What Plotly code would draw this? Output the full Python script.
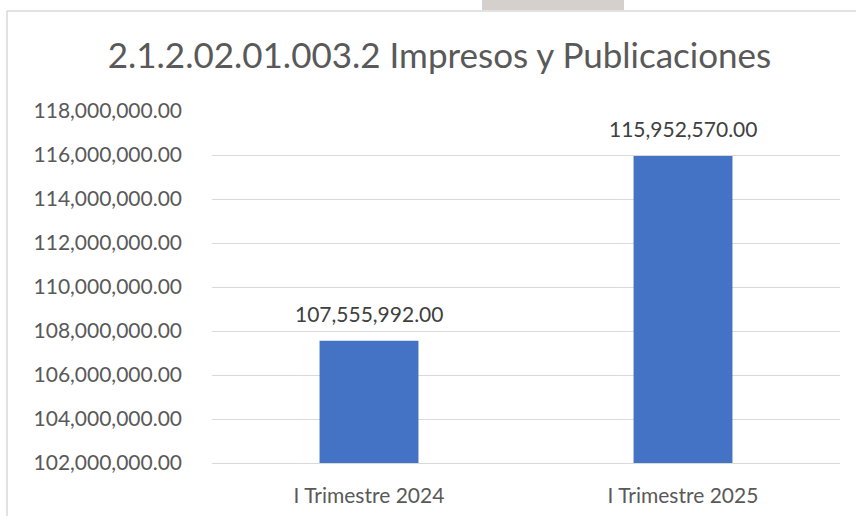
import plotly.graph_objects as go

categories = ["I Trimestre 2024", "I Trimestre 2025"]
values = [107555992.00, 115952570.00]
title_text = "2.1.2.02.01.003.2 Impresos y Publicaciones"
y_min, y_max, y_step = 102000000, 118000000, 2000000

FONT = "Lato, Carlito, Calibri, sans-serif"
TXT = "#595959"

fig = go.Figure()
fig.add_trace(go.Bar(
    x=categories, y=values, marker=dict(color="#4472c4", line=dict(width=0)),
    width=0.315,
))

for c, v in zip(categories, values):
    fig.add_annotation(x=c, y=v, text=f"{v:,.2f}", showarrow=False,
                       yanchor="bottom", yshift=13,
                       font=dict(family=FONT, size=21, color="#404040"))

W, H = 856, 516
L, R, T, B = 212, 16, 111, 53
pw, ph = W - L - R, H - T - B

def px(x):
    return (x - L) / pw

def py(y):
    return (H - B - y) / ph

shapes = [
    dict(type="line", xref="paper", yref="paper", x0=px(7), x1=px(860), y0=py(11), y1=py(11),
         line=dict(color="#d9d9d9", width=1.5), layer="below"),
    dict(type="line", xref="paper", yref="paper", x0=px(7), x1=px(7), y0=py(11), y1=py(520),
         line=dict(color="#d9d9d9", width=1.5), layer="below"),
    dict(type="rect", xref="paper", yref="paper", x0=px(482), x1=px(624), y0=py(-2), y1=py(10),
         fillcolor="#d5d0cc", line=dict(width=0), layer="below"),
]

fig.update_layout(
    width=W, height=H,
    margin=dict(l=L, r=R, t=T, b=B, autoexpand=False),
    paper_bgcolor="white", plot_bgcolor="white",
    showlegend=False,
    title=dict(text=title_text, xref="container", x=439.5 / W, xanchor="center",
               yref="container", y=1 - 56 / H, yanchor="middle",
               font=dict(family=FONT, size=35, color=TXT)),
    font=dict(family=FONT, color=TXT),
    shapes=shapes,
)
fig.update_yaxes(
    range=[y_min, y_max], tick0=y_min, dtick=y_step, tickformat=",.2f",
    showgrid=True, gridcolor="#d9d9d9", gridwidth=1, zeroline=False,
    showline=False, ticks="", ticklabelstandoff=29,
    tickfont=dict(family=FONT, size=21, color=TXT),
)
fig.update_xaxes(
    showline=True, linecolor="#d9d9d9", linewidth=1, ticks="",
    ticklabelstandoff=14,
    tickfont=dict(family=FONT, size=21, color=TXT),
)

fig.write_html("out.html", config={"displayModeBar": False},
               post_script="document.body.style.margin='0';document.body.style.overflow='hidden';")
